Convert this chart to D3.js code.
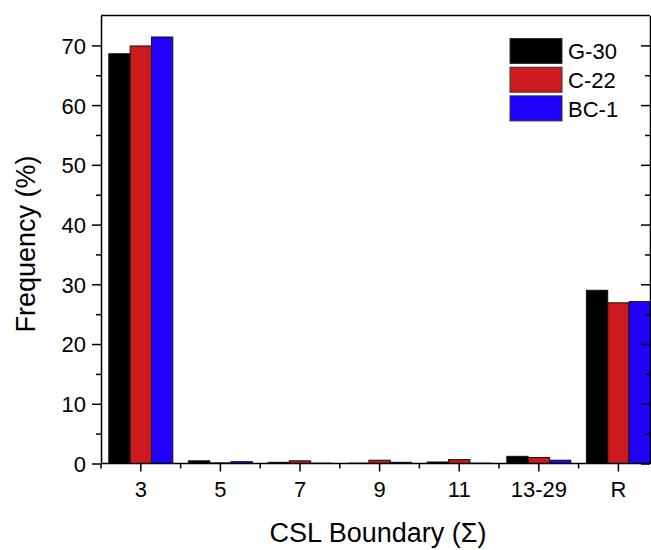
<!DOCTYPE html>
<html>
<head>
<meta charset="utf-8">
<script src="https://cdn.jsdelivr.net/npm/d3@7"></script>
<style>
  html, body { margin: 0; padding: 0; background: #fff; }
  svg { display: block; font-family: "Liberation Sans", Arial, sans-serif; }
</style>
</head>
<body>
<svg id="chart" width="651" height="550"></svg>
<script>
// CSL boundary categories and the frequency (%) of each sample
const categories = ["3", "5", "7", "9", "11", "13-29", "R"];
const seriesNames = ["G-30", "C-22", "BC-1"];
const seriesColors = ["#000000", "#cc1a1e", "#2000ff"];
const g30 = [68.6, 0.45, 0.2, 0.05, 0.25, 1.2, 29.0];
const c22 = [69.9, 0.1, 0.45, 0.55, 0.65, 1.0, 26.9];
const bc1 = [71.4, 0.3, 0.05, 0.2, 0.05, 0.55, 27.1];
const yMajorTicks = [0, 10, 20, 30, 40, 50, 60, 70];
const yMinorTicks = [5, 15, 25, 35, 45, 55, 65];

const seriesValues = [g30, c22, bc1];

const svg = d3.select("#chart");
const plotLeft = 101, plotRight = 650, plotTop = 15.5, plotBottom = 463.5;
const step = 79.6;
const tickFont = 22, titleFont = 27;

const x = d3.scaleBand()
  .domain(categories)
  .range([plotLeft, plotLeft + step * categories.length])
  .paddingInner(1 - 64 / step)
  .paddingOuter((1 - 64 / step) / 2);

const xs = d3.scaleBand()
  .domain(seriesNames)
  .range([0, x.bandwidth()]);

const y = d3.scaleLinear().domain([0, 75]).range([plotBottom, plotTop]);

// bars
const plot = svg.append("g");
seriesNames.forEach((name, si) => {
  plot.append("g")
    .selectAll("rect")
    .data(categories.map((c, i) => ({ c, v: seriesValues[si][i] })))
    .join("rect")
    .attr("x", d => x(d.c) + xs(name))
    .attr("y", d => y(d.v))
    .attr("width", xs.bandwidth())
    .attr("height", d => y(0) - y(d.v))
    .attr("fill", seriesColors[si])
    .attr("stroke", "#111")
    .attr("stroke-width", 1);
});

const axisStyle = g => {
  g.selectAll("path, line").attr("stroke", "#000").attr("stroke-width", 1.5);
  g.selectAll("text").attr("fill", "#000").attr("font-size", tickFont)
    .attr("font-family", "Liberation Sans, Arial, sans-serif");
};

// left axis
svg.append("g")
  .attr("transform", `translate(${plotLeft},0)`)
  .call(d3.axisLeft(y).tickValues(yMajorTicks).tickSize(9).tickSizeOuter(0).tickPadding(6))
  .call(axisStyle)
  .call(g => g.selectAll("text").attr("dy", "0.36em"));
svg.append("g")
  .attr("transform", `translate(${plotLeft},0)`)
  .call(d3.axisLeft(y).tickValues(yMinorTicks).tickSize(5).tickSizeOuter(0).tickFormat(""))
  .call(axisStyle)
  .call(g => g.select(".domain").remove());

// right mirror axis, ticks pointing inward
svg.append("g")
  .attr("transform", `translate(${plotRight},0)`)
  .call(d3.axisLeft(y).tickValues(yMajorTicks).tickSize(9).tickSizeOuter(0).tickFormat(""))
  .call(axisStyle);
svg.append("g")
  .attr("transform", `translate(${plotRight},0)`)
  .call(d3.axisLeft(y).tickValues(yMinorTicks).tickSize(5).tickSizeOuter(0).tickFormat(""))
  .call(axisStyle)
  .call(g => g.select(".domain").remove());

// top frame line
svg.append("line")
  .attr("x1", plotLeft).attr("x2", plotRight)
  .attr("y1", plotTop).attr("y2", plotTop)
  .attr("stroke", "#000").attr("stroke-width", 1.5);

// bottom axis
svg.append("g")
  .attr("transform", `translate(0,${plotBottom})`)
  .call(d3.axisBottom(x).tickSize(8).tickSizeOuter(0).tickPadding(10))
  .call(axisStyle)
  .call(g => g.select(".domain").attr("d", `M${plotLeft},0H${plotRight}`));

// minor ticks between categories
const boundaries = d3.range(categories.length + 1).map(i => plotLeft + step * i).filter(v => v <= plotRight);
svg.append("g")
  .attr("transform", `translate(0,${plotBottom})`)
  .selectAll("line")
  .data(boundaries)
  .join("line")
  .attr("x1", d => d).attr("x2", d => d)
  .attr("y1", 0).attr("y2", 5)
  .attr("stroke", "#000").attr("stroke-width", 1.5);

// axis titles
svg.append("text")
  .attr("x", 378).attr("y", 542)
  .attr("text-anchor", "middle")
  .attr("font-size", titleFont)
  .attr("fill", "#000")
  .text("CSL Boundary (Σ)");

svg.append("text")
  .attr("transform", `translate(34.5,244) rotate(-90)`)
  .attr("text-anchor", "middle")
  .attr("font-size", titleFont)
  .attr("fill", "#000")
  .text("Frequency (%)");

// legend
const legend = svg.append("g");
seriesNames.forEach((name, i) => {
  const ly = 38.5 + i * 28.7;
  legend.append("rect")
    .attr("x", 510).attr("y", ly)
    .attr("width", 52).attr("height", 25)
    .attr("fill", seriesColors[i])
    .attr("stroke", "#333").attr("stroke-width", 1);
  legend.append("text")
    .attr("x", 568).attr("y", ly + 12.8)
    .attr("dy", "0.36em")
    .attr("font-size", tickFont)
    .attr("fill", "#000")
    .text(name);
});
</script>
</body>
</html>
